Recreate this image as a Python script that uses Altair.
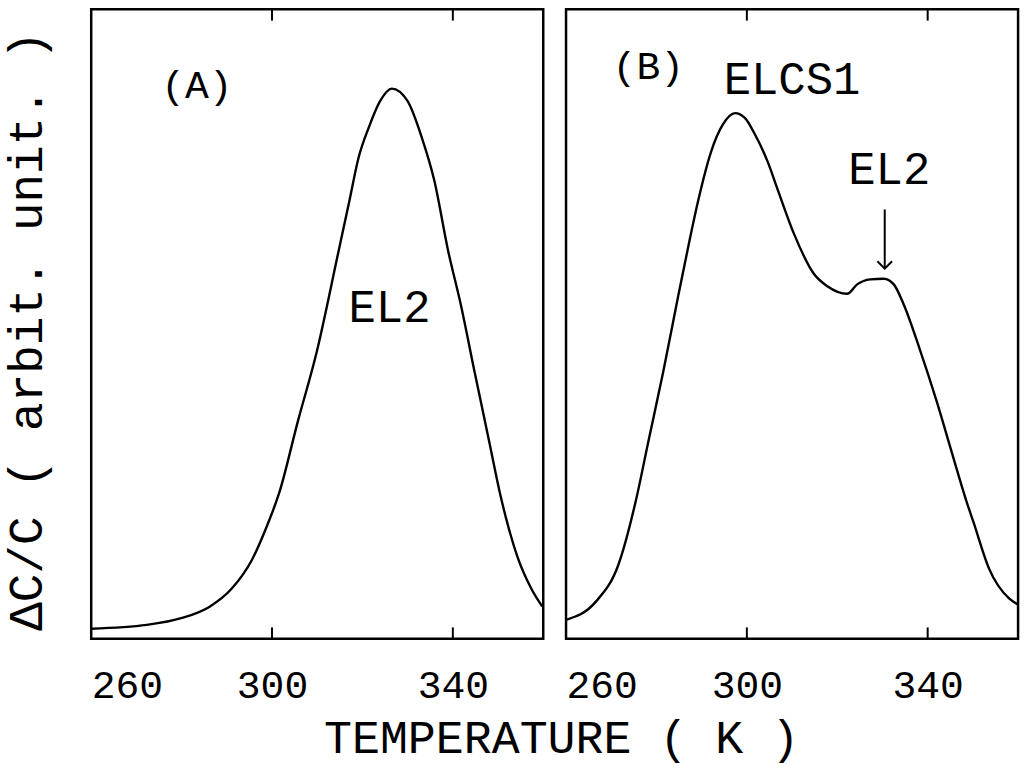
import altair as alt
import pandas as pd

# Panel (A): single EL2 peak
temp_a = [260.0, 272.3, 280.1, 286.2, 291.0, 295.6, 298.7, 301.6, 305.7, 309.9,
          314.7, 317.1, 319.1, 321.5, 323.9, 326.5, 330.0, 333.1, 335.9, 339.0,
          341.6, 344.9, 348.2, 350.4, 351.9, 354.3, 357.4, 359.8]
signal_a = [1.6, 2.2, 3.3, 5.1, 7.9, 12.6, 17.6, 23.2, 34.5, 45.6,
            61.5, 69.5, 76.3, 81.4, 85.4, 87.4, 85.4, 79.7, 72.8, 61.5,
            53.6, 42.1, 30.8, 23.2, 18.8, 13.0, 7.9, 5.1]

# Panel (B): ELCS1 peak with EL2 shoulder
temp_b = [260.0, 266.6, 271.6, 275.4, 278.2, 281.5, 284.8, 287.5, 289.2, 292.1,
          294.7, 297.4, 299.6, 301.8, 304.6, 306.8, 310.5, 314.9, 317.8, 322.2,
          324.4, 327.3, 330.3, 332.5, 334.7, 338.2, 342.0, 345.3, 348.6, 350.1,
          353.6, 358.0, 360.0]
signal_b = [3.0, 5.9, 11.8, 21.8, 31.3, 42.4, 54.4, 63.9, 69.5, 77.4,
            81.7, 83.5, 82.7, 80.1, 75.8, 71.4, 64.2, 57.9, 56.0, 54.8,
            56.3, 57.1, 57.2, 56.3, 53.1, 46.1, 37.7, 29.7, 21.8, 18.6,
            11.1, 6.4, 5.4]

tick_values = [260, 300, 340]
inner_ticks = [300, 340]

labels_a = ["(A)", "EL2"]
label_t_a = [283.4, 326.0]
label_s_a = [87.8, 52.5]
label_fs_a = [40, 46]

labels_b = ["(B)", "ELCS1", "EL2"]
label_t_b = [278.2, 310.0, 331.5]
label_s_b = [90.8, 88.8, 74.4]
label_fs_b = [40, 46, 46]

arrow_t = 330.5
arrow_top = 68.2
arrow_tip = 58.8

FONT = "Liberation Mono"
W, H = 456, 635

x_scale = alt.Scale(domain=[260, 360], nice=False, zero=False)
y_scale = alt.Scale(domain=[0, 100], nice=False)


def x_axis(with_title):
    kw = dict(
        values=tick_values, ticks=False, tickSize=0, domain=False, grid=False,
        labelFont=FONT, labelFontSize=40, labelColor="black", labelPadding=27,
        labelBaseline="top", labelFlush=False,
        labelAlign={"condition": {"test": "datum.value == 260", "value": "left"},
                    "value": "center"},
    )
    if with_title:
        kw.update(title="TEMPERATURE ( K )", titleFont=FONT,
                  titleFontSize=47, titleFontWeight="normal", titleColor="black",
                  titleX=474, titleY=101, titleAlign="center",
                  titleBaseline="middle", titleAngle=0)
    else:
        kw.update(title=None)
    return alt.Axis(**kw)


def y_axis(with_title):
    if not with_title:
        return None
    return alt.Axis(labels=False, ticks=False, domain=False, grid=False,
                    title="ΔC/C ( arbit. unit. )",
                    titleFont=FONT, titleFontSize=48, titleFontWeight="normal",
                    titleColor="black", titleX=-64, titleY=324, titleAngle=270,
                    titleAlign="center", titleBaseline="middle")


def panel(temps, signal, labels, lt, ls, lfs, first):
    xa = x_axis(first)
    ya = y_axis(first)
    xe = lambda f: alt.X(f"{f}:Q", scale=x_scale, axis=xa)
    ye = lambda f: alt.Y(f"{f}:Q", scale=y_scale, axis=ya)

    curve = alt.Chart(pd.DataFrame({"T": temps, "S": signal})).mark_line(
        color="black", strokeWidth=2.4, interpolate="monotone"
    ).encode(x=xe("T"), y=ye("S"))

    ticks_df = pd.DataFrame({
        "T": inner_ticks * 2,
        "S": [0.0] * len(inner_ticks) + [98.2] * len(inner_ticks),
        "S2": [1.8] * len(inner_ticks) + [100.0] * len(inner_ticks),
    })
    ticks = alt.Chart(ticks_df).mark_rule(color="black", strokeWidth=2).encode(
        x=xe("T"), y=ye("S"), y2="S2")

    text = alt.Chart(pd.DataFrame({"T": lt, "S": ls, "label": labels, "fs": lfs})).mark_text(
        font=FONT, color="black", align="center", baseline="middle"
    ).encode(x=xe("T"), y=ye("S"), text="label:N",
             size=alt.Size("fs:Q", scale=None, legend=None))

    layers = [curve, ticks, text]
    if not first:
        shaft = alt.Chart(pd.DataFrame({"T": [arrow_t], "S": [arrow_top], "S2": [arrow_tip]})).mark_rule(
            color="black", strokeWidth=2).encode(x=xe("T"), y=ye("S"), y2="S2")
        head = alt.Chart(pd.DataFrame({"T": [arrow_t], "S": [arrow_tip]})).mark_point(
            shape="M-1,-1L0,0L1,-1", filled=False, color="black", strokeWidth=2,
            size=220, opacity=1).encode(x=xe("T"), y=ye("S"))
        layers += [shaft, head]
    return alt.layer(*layers).properties(width=W, height=H)


panel_a = panel(temp_a, signal_a, labels_a, label_t_a, label_s_a, label_fs_a, True)
panel_b = panel(temp_b, signal_b, labels_b, label_t_b, label_s_b, label_fs_b, False)

chart = alt.hconcat(panel_a, panel_b, spacing=23, bounds="flush").configure_view(
    stroke="black", strokeWidth=2.5
).properties(
    padding={"left": 2, "top": 3, "right": 2, "bottom": 0},
    background="white",
)

chart.save("out.html", embed_options={"renderer": "svg", "actions": False})
